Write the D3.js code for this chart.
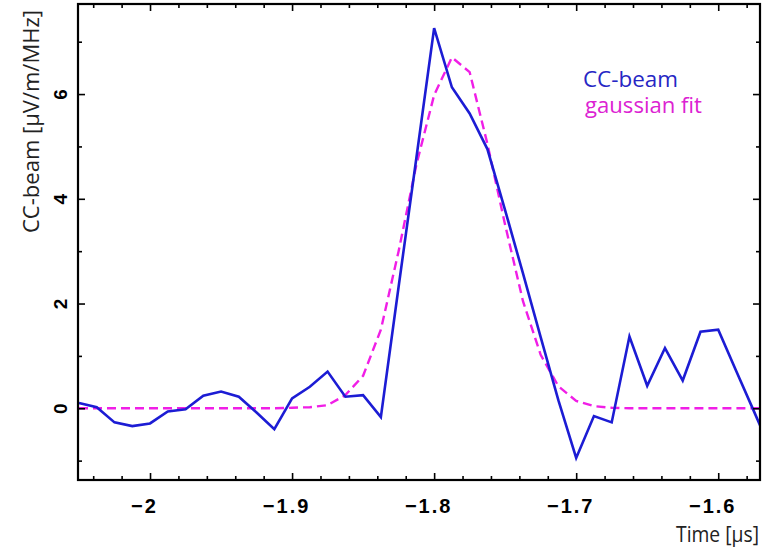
<!DOCTYPE html>
<html>
<head>
<meta charset="utf-8">
<script src="https://cdn.jsdelivr.net/npm/d3@7"></script>
<style>
  html, body { margin: 0; padding: 0; background: #fff; }
  svg { display: block; }
</style>
</head>
<body>
<svg id="chart" width="767" height="550"></svg>
<script>
// Sample times in microseconds (12.5 ns steps)
const times = [
  -2.05, -2.0375, -2.025, -2.0125, -2.0, -1.9875, -1.975, -1.9625, -1.95, -1.9375,
  -1.925, -1.9125, -1.9, -1.8875, -1.875, -1.8625, -1.85, -1.8375, -1.825, -1.8125,
  -1.8, -1.7875, -1.775, -1.7625, -1.75, -1.7375, -1.725, -1.7125, -1.7, -1.6875,
  -1.675, -1.6625, -1.65, -1.6375, -1.625, -1.6125, -1.6, -1.5875, -1.575, -1.5625
];

// CC-beam amplitude, µV/m/MHz
const ccBeam = [
  0.10, 0.02, -0.27, -0.34, -0.29, -0.06, -0.02, 0.24, 0.32, 0.22,
  -0.08, -0.40, 0.19, 0.41, 0.70, 0.22, 0.25, -0.17, 2.32, 4.78,
  7.26, 6.13, 5.63, 4.95, 3.78, 2.58, 1.36, 0.15, -0.95, -0.15,
  -0.27, 1.37, 0.43, 1.15, 0.53, 1.46, 1.50, 0.72, -0.05, -0.83
];

// Gaussian fit evaluated on the same samples
const gaussFit = [
  0, 0, 0, 0, 0, 0, 0, 0, 0, 0,
  0, 0, 0.01, 0.02, 0.06, 0.25, 0.62, 1.50, 3.00, 4.65,
  5.98, 6.70, 6.42, 5.05, 3.50, 2.05, 1.02, 0.42, 0.14, 0.04,
  0.01, 0, 0, 0, 0, 0, 0, 0, 0, 0
];

const xTickValues = [-2, -1.9, -1.8, -1.7, -1.6];
const yTickValues = [0, 2, 4, 6];
const yMinorValues = [-1, 1, 3, 5, 7];

const xDomain = [-2.0507, -1.5706];
const yDomain = [-1.37, 7.72];

const legendLabels = ["CC-beam", "gaussian fit"];
const xTitle = "Time [μs]";
const yTitle = "CC-beam [μV/m/MHz]";

const blue = "#1c1cd4";
const magenta = "#f01ee6";

const svg = d3.select("#chart");
const plot = { left: 78, right: 760, top: 4, bottom: 480 };

const x = d3.scaleLinear().domain(xDomain).range([plot.left, plot.right]);
const y = d3.scaleLinear().domain(yDomain).range([plot.bottom, plot.top]);

const fmt = d => (d < 0 ? "\u2212" : "") + Math.abs(d);

// minor x ticks every 0.02 µs
const xMinor = d3.range(-2.04, -1.57, 0.02).map(v => +v.toFixed(2))
  .filter(v => !xTickValues.some(t => Math.abs(t - v) < 1e-6));

svg.append("defs").append("clipPath").attr("id", "clip")
  .append("rect")
  .attr("x", plot.left).attr("y", plot.top)
  .attr("width", plot.right - plot.left).attr("height", plot.bottom - plot.top);

// series
const seriesData = (vals) => times.map((t, i) => [t, vals[i]]);
const line = d3.line().x(d => x(d[0])).y(d => y(d[1]));

const g = svg.append("g").attr("clip-path", "url(#clip)");
g.append("path")
  .attr("d", line(seriesData(gaussFit)))
  .attr("fill", "none")
  .attr("stroke", magenta)
  .attr("stroke-width", 2.4)
  .attr("stroke-dasharray", "9,5");
g.append("path")
  .attr("d", line(seriesData(ccBeam)))
  .attr("fill", "none")
  .attr("stroke", blue)
  .attr("stroke-width", 2.6)
  .attr("stroke-linejoin", "miter");

// axes: major + minor ticks on all four sides, pointing inward
const tickStyle = sel => {
  sel.select(".domain").remove();
  sel.selectAll(".tick line").attr("stroke", "#000").attr("stroke-width", 1.6);
};

const majorLen = 7, minorLen = 4;
const tickFont = "'Liberation Sans', Arial, sans-serif";

svg.append("g")
  .attr("transform", `translate(0,${plot.bottom})`)
  .call(d3.axisBottom(x).tickValues(xTickValues).tickSizeInner(-majorLen).tickSizeOuter(0).tickPadding(majorLen + 12).tickFormat(fmt))
  .call(tickStyle)
  .call(s => s.selectAll(".tick text")
    .attr("font-family", tickFont)
    .attr("font-weight", "bold")
    .attr("font-size", 20)
    .attr("letter-spacing", "2px")
    .attr("dx", -6)
    .attr("fill", "#000"));
svg.append("g")
  .attr("transform", `translate(0,${plot.bottom})`)
  .call(d3.axisBottom(x).tickValues(xMinor).tickSizeInner(-minorLen).tickSizeOuter(0).tickFormat(""))
  .call(tickStyle);
svg.append("g")
  .attr("transform", `translate(0,${plot.top})`)
  .call(d3.axisTop(x).tickValues(xTickValues).tickSizeInner(-majorLen).tickSizeOuter(0).tickFormat(""))
  .call(tickStyle);
svg.append("g")
  .attr("transform", `translate(0,${plot.top})`)
  .call(d3.axisTop(x).tickValues(xMinor).tickSizeInner(-minorLen).tickSizeOuter(0).tickFormat(""))
  .call(tickStyle);

const yAxisG = svg.append("g")
  .attr("transform", `translate(${plot.left},0)`)
  .call(d3.axisLeft(y).tickValues(yTickValues).tickSizeInner(-majorLen).tickSizeOuter(0).tickFormat(""))
  .call(tickStyle);
svg.append("g")
  .attr("transform", `translate(${plot.left},0)`)
  .call(d3.axisLeft(y).tickValues(yMinorValues).tickSizeInner(-minorLen).tickSizeOuter(0).tickFormat(""))
  .call(tickStyle);
svg.append("g")
  .attr("transform", `translate(${plot.right},0)`)
  .call(d3.axisRight(y).tickValues(yTickValues).tickSizeInner(-majorLen).tickSizeOuter(0).tickFormat(""))
  .call(tickStyle);
svg.append("g")
  .attr("transform", `translate(${plot.right},0)`)
  .call(d3.axisRight(y).tickValues(yMinorValues).tickSizeInner(-minorLen).tickSizeOuter(0).tickFormat(""))
  .call(tickStyle);

// rotated y tick labels
yAxisG.selectAll(".tick").append("text")
  .attr("text-anchor", "middle")
  .attr("font-family", tickFont)
  .attr("font-weight", "bold")
  .attr("font-size", 19)
  .attr("fill", "#000")
  .attr("transform", `translate(${67 - plot.left},0) rotate(-90)`)
  .text(d => fmt(d));

// frame
svg.append("rect")
  .attr("x", plot.left).attr("y", plot.top)
  .attr("width", plot.right - plot.left).attr("height", plot.bottom - plot.top)
  .attr("fill", "none").attr("stroke", "#000").attr("stroke-width", 2.2);

// axis titles
const titleFont = "'Open Sans', 'Noto Sans', sans-serif";
svg.append("text")
  .attr("transform", "translate(39,121.5) rotate(-90)")
  .attr("text-anchor", "middle")
  .attr("font-family", titleFont)
  .attr("font-size", 22)
  .attr("fill", "#222")
  .attr("textLength", 223)
  .attr("lengthAdjust", "spacingAndGlyphs")
  .text(yTitle);

svg.append("text")
  .attr("x", 676).attr("y", 542)
  .attr("font-family", titleFont)
  .attr("font-size", 21)
  .attr("fill", "#222")
  .attr("textLength", 83)
  .attr("lengthAdjust", "spacingAndGlyphs")
  .text(xTitle);

// legend
const legend = svg.append("g");
legend.append("text")
  .attr("x", 583).attr("y", 86.7)
  .attr("font-family", titleFont)
  .attr("font-size", 21)
  .attr("fill", "#2626c4")
  .attr("textLength", 95)
  .attr("lengthAdjust", "spacingAndGlyphs")
  .text(legendLabels[0]);
legend.append("text")
  .attr("x", 585).attr("y", 113)
  .attr("font-family", titleFont)
  .attr("font-size", 21)
  .attr("fill", "#dc22d2")
  .attr("textLength", 117)
  .attr("lengthAdjust", "spacingAndGlyphs")
  .text(legendLabels[1]);
</script>
</body>
</html>
